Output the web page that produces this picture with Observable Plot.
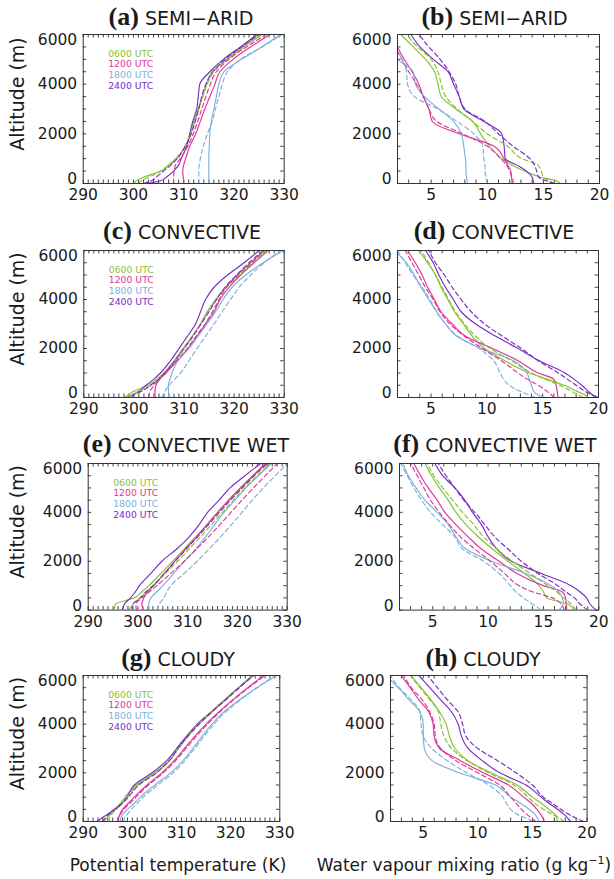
<!DOCTYPE html>
<html><head><meta charset="utf-8">
<script src="https://cdn.jsdelivr.net/npm/d3@7"></script>
<script src="https://cdn.jsdelivr.net/npm/@observablehq/plot@0.6"></script>
<style>
body{margin:0;background:#fff;}
#wrap{position:relative;width:614px;height:879px;overflow:hidden;background:#fff;}
#wrap > svg, #wrap > figure{position:absolute;margin:0;}
</style></head>
<body><div id="wrap"></div>
<script>
// ---------- shared values ----------
const altitude = [0, 100, 250, 500, 750, 1000, 1500, 2000, 2500, 3000, 3500, 4000, 4500, 5000, 5500, 6000];
const times = ["0600 UTC", "1200 UTC", "1800 UTC", "2400 UTC"];
const timeColors = ["#86c232", "#dd3598", "#7eb0dc", "#7a2cc4"];
const thetaTicks = [290, 300, 310, 320, 330];
const mixTicks = [5, 10, 15, 20];
const altTicks = [0, 2000, 4000, 6000];
const panelLetters = ["(a)", "(b)", "(c)", "(d)", "(e)", "(f)", "(g)", "(h)"];
const panelNames = ["SEMI\u2212ARID", "SEMI\u2212ARID", "CONVECTIVE", "CONVECTIVE", "CONVECTIVE WET", "CONVECTIVE WET", "CLOUDY", "CLOUDY"];
const thetaAxisTitle = "Potential temperature (K)";
const mixAxisTitle = "Water vapour mixing ratio (g kg";
const yAxisTitle = "Altitude (m)";

// rows: 0600, 1200, 1800, 2400 UTC ; columns follow `altitude`
// (a) potential temperature, semi-arid
const semiAridThetaSolid = [
  [300.0, 300.5, 302.0, 305.4, 307.0, 308.4, 310.4, 311.4, 312.0, 312.9, 313.7, 314.5, 315.7, 318.7, 322.0, 325.6],
  [310.0, 310.0, 309.9, 309.8, 310.0, 310.4, 311.2, 312.4, 313.3, 314.2, 315.2, 316.2, 317.2, 319.8, 323.3, 327.2],
  [315.0, 315.0, 315.0, 315.0, 315.0, 315.0, 315.1, 315.2, 315.5, 316.0, 316.5, 317.0, 318.0, 321.5, 325.5, 329.3],
  [302.5, 305.3, 306.5, 308.0, 309.0, 309.5, 310.6, 311.2, 311.8, 312.6, 312.9, 313.2, 315.2, 317.9, 321.3, 324.6]
];
const semiAridThetaDashed = [
  [301.0, 301.5, 303.0, 305.5, 307.3, 308.6, 310.3, 311.3, 312.2, 313.0, 313.8, 314.7, 316.0, 318.5, 321.8, 325.0],
  [308.0, 308.0, 308.0, 308.1, 308.4, 309.3, 310.8, 311.9, 312.8, 313.6, 314.4, 315.3, 316.5, 319.0, 322.5, 326.5],
  [313.0, 313.0, 313.0, 313.0, 313.1, 313.3, 313.9, 314.7, 315.7, 316.3, 317.0, 317.7, 318.7, 321.3, 325.6, 329.6],
  [302.0, 303.5, 304.5, 306.0, 307.5, 308.7, 310.3, 311.5, 312.3, 313.0, 313.6, 314.4, 315.8, 318.3, 321.5, 325.0]
];
// (b) mixing ratio, semi-arid
const semiAridMixSolid = [
  [16.5, 16.2, 14.8, 13.3, 12.2, 11.3, 10.2, 9.4, 8.7, 7.2, 5.9, 5.6, 5.3, 4.5, 3.4, 2.3],
  [12.2, 12.2, 12.15, 12.1, 11.8, 11.5, 10.6, 7.5, 5.1, 4.8, 4.3, 3.9, 3.3, 2.6, 2.0, 1.5],
  [8.2, 8.2, 8.15, 8.1, 8.1, 8.05, 7.9, 7.7, 7.0, 5.7, 4.4, 3.6, 3.4, 2.0, 1.3, 0.8],
  [14.1, 14.1, 14.0, 13.5, 12.6, 11.6, 11.5, 11.3, 9.7, 7.9, 7.5, 7.0, 6.5, 5.2, 4.0, 3.2]
];
const semiAridMixDashed = [
  [16.0, 15.5, 15.0, 14.8, 14.5, 13.1, 11.8, 10.0, 8.7, 7.3, 6.3, 5.9, 5.6, 5.0, 3.8, 2.8],
  [12.3, 12.3, 12.2, 12.0, 11.7, 11.2, 10.0, 7.8, 5.5, 4.8, 4.3, 3.7, 3.0, 2.4, 1.8, 1.3],
  [10.0, 9.95, 9.9, 9.8, 9.8, 9.7, 9.6, 8.8, 7.3, 5.6, 3.5, 2.9, 2.8, 2.4, 1.8, 1.2],
  [16.0, 15.3, 14.6, 14.4, 14.2, 13.8, 12.3, 11.0, 9.8, 8.0, 7.5, 7.2, 6.6, 5.8, 4.8, 3.9]
];
// (c) potential temperature, convective
const convThetaSolid = [
  [298.0, 298.8, 300.0, 302.8, 304.6, 306.0, 308.0, 309.8, 311.6, 313.3, 314.6, 316.3, 318.3, 320.6, 323.3, 326.3],
  [304.3, 304.2, 304.2, 304.4, 305.2, 306.4, 308.7, 310.8, 312.6, 314.3, 316.0, 317.2, 319.0, 321.3, 324.0, 326.8],
  [307.0, 307.0, 306.9, 306.9, 307.2, 307.6, 308.8, 311.0, 312.8, 314.6, 316.3, 317.8, 319.6, 322.3, 325.8, 329.8],
  [298.7, 299.6, 301.0, 302.4, 304.0, 305.3, 307.3, 309.0, 310.7, 312.3, 313.3, 314.3, 316.0, 318.7, 322.0, 325.0]
];
const convThetaDashed = [
  [298.5, 299.5, 301.0, 303.5, 305.0, 306.2, 308.2, 310.0, 311.7, 313.3, 314.8, 316.5, 318.5, 321.0, 323.7, 326.5],
  [303.0, 303.0, 303.2, 304.0, 305.0, 306.2, 308.5, 310.6, 312.4, 314.2, 315.7, 317.0, 318.5, 320.8, 323.5, 326.0],
  [305.5, 305.8, 306.2, 307.0, 308.2, 309.3, 311.0, 312.6, 314.3, 316.0, 317.6, 319.3, 321.0, 323.3, 326.0, 329.3],
  [299.6, 300.0, 301.5, 303.3, 305.0, 306.2, 308.2, 310.0, 311.8, 313.4, 315.0, 316.5, 318.2, 320.5, 323.0, 325.8]
];
// (d) mixing ratio, convective
const convMixSolid = [
  [19.1, 18.8, 18.1, 16.9, 15.4, 13.8, 11.6, 9.8, 8.7, 7.9, 7.1, 6.5, 5.9, 5.4, 4.7, 3.9],
  [16.4, 16.35, 16.3, 16.2, 16.0, 14.6, 12.8, 10.5, 8.1, 6.9, 5.9, 5.3, 4.7, 4.2, 3.6, 2.9],
  [15.2, 14.6, 14.2, 14.0, 13.8, 13.6, 12.4, 9.5, 7.3, 6.3, 5.5, 4.8, 4.1, 3.5, 2.8, 1.7],
  [20.0, 19.5, 19.1, 18.5, 17.8, 17.0, 14.7, 12.8, 10.8, 9.0, 7.7, 7.0, 6.3, 5.7, 5.2, 4.5]
];
const convMixDashed = [
  [18.6, 18.2, 17.6, 16.5, 15.2, 14.0, 12.2, 10.3, 9.0, 8.0, 7.2, 6.6, 6.0, 5.4, 4.8, 4.1],
  [16.0, 15.8, 15.4, 14.6, 13.6, 12.8, 11.3, 9.6, 8.0, 6.7, 5.8, 5.2, 4.5, 3.9, 3.3, 2.7],
  [14.3, 13.8, 13.0, 12.0, 11.5, 11.2, 10.6, 9.3, 7.4, 6.3, 5.5, 4.9, 4.2, 3.4, 2.7, 2.0],
  [19.8, 19.4, 18.8, 18.0, 17.2, 16.4, 14.6, 13.1, 11.4, 9.8, 8.6, 7.7, 6.9, 6.2, 5.4, 4.8]
];
// (e) potential temperature, convective wet
const wetThetaSolid = [
  [295.2, 295.3, 295.5, 299.3, 300.8, 302.2, 304.6, 307.0, 309.3, 311.6, 313.9, 316.1, 318.4, 320.7, 323.2, 325.8],
  [301.0, 300.9, 300.8, 301.2, 302.0, 303.2, 305.3, 307.4, 309.6, 311.8, 313.9, 316.0, 318.2, 320.6, 323.1, 325.6],
  [302.2, 302.2, 302.2, 302.6, 303.8, 305.0, 307.2, 309.4, 311.6, 313.6, 315.4, 317.3, 319.5, 321.7, 324.2, 326.8],
  [296.8, 297.0, 297.3, 298.5, 299.5, 300.3, 302.6, 304.8, 307.8, 310.3, 312.3, 314.0, 316.3, 318.5, 321.5, 324.7]
];
const wetThetaDashed = [
  [298.0, 298.5, 299.0, 300.3, 301.6, 303.0, 305.5, 308.0, 310.3, 312.6, 314.8, 317.0, 319.2, 321.5, 324.0, 326.5],
  [299.8, 299.6, 299.6, 300.8, 302.3, 303.8, 306.6, 309.3, 311.8, 314.2, 316.5, 318.7, 320.9, 323.2, 325.6, 328.0],
  [303.9, 304.0, 304.3, 305.2, 305.8, 306.6, 309.3, 311.9, 314.3, 316.6, 318.8, 320.9, 323.0, 325.2, 327.6, 330.0],
  [298.8, 298.8, 299.0, 300.5, 301.7, 303.0, 305.3, 307.5, 309.7, 312.0, 314.2, 316.4, 318.6, 321.0, 323.4, 326.0]
];
// (f) mixing ratio, convective wet
const wetMixSolid = [
  [17.8, 17.6, 17.2, 15.3, 15.0, 14.6, 13.3, 11.8, 10.4, 9.1, 8.0, 7.1, 6.4, 5.6, 4.9, 4.3],
  [17.1, 17.1, 17.05, 17.0, 16.7, 15.0, 12.6, 11.0, 9.4, 8.2, 7.1, 6.1, 5.4, 4.6, 3.9, 3.3],
  [16.4, 16.6, 16.8, 16.7, 16.4, 15.7, 13.4, 10.3, 8.0, 7.1, 6.4, 5.4, 4.3, 3.5, 2.8, 2.3],
  [19.8, 19.5, 19.2, 18.9, 18.3, 17.5, 14.8, 12.1, 10.8, 10.0, 9.4, 8.6, 7.9, 7.0, 5.9, 5.2]
];
const wetMixDashed = [
  [17.9, 17.8, 17.5, 16.8, 16.2, 15.4, 13.8, 12.2, 10.8, 9.6, 8.7, 7.7, 6.8, 5.9, 5.1, 4.5],
  [16.9, 16.8, 16.6, 15.8, 14.0, 12.8, 11.5, 10.2, 8.8, 7.5, 6.5, 5.6, 4.8, 4.2, 3.6, 3.0],
  [14.7, 14.5, 14.0, 13.2, 12.5, 12.0, 11.0, 9.6, 7.7, 7.0, 5.9, 4.8, 4.0, 3.3, 2.7, 2.1],
  [19.0, 18.7, 18.3, 17.8, 17.0, 16.3, 14.5, 13.0, 11.8, 10.6, 9.7, 8.8, 7.8, 7.0, 6.2, 5.5]
];
// (g) potential temperature, cloudy
const cloudyThetaSolid = [
  [294.2, 294.6, 295.3, 296.4, 297.6, 298.5, 300.8, 304.5, 307.5, 309.3, 311.2, 313.5, 316.2, 319.0, 321.7, 324.7],
  [297.3, 297.2, 297.4, 298.0, 299.2, 300.4, 303.0, 306.0, 308.5, 310.6, 312.7, 315.0, 317.6, 320.4, 323.5, 326.7],
  [297.6, 297.6, 297.9, 299.0, 300.4, 301.6, 304.6, 307.8, 310.3, 312.3, 314.2, 316.2, 318.6, 321.8, 325.3, 329.5],
  [292.8, 293.5, 294.6, 296.4, 297.9, 298.9, 300.4, 304.0, 307.0, 309.0, 311.0, 313.2, 316.0, 318.8, 321.6, 324.5]
];
const cloudyThetaDashed = [
  [295.4, 295.3, 295.6, 296.8, 298.0, 299.0, 301.2, 304.8, 307.6, 309.4, 311.3, 313.4, 316.0, 318.7, 321.6, 324.4],
  [297.0, 297.0, 297.4, 298.3, 299.5, 300.7, 303.3, 306.3, 308.8, 310.9, 313.0, 315.3, 317.8, 320.6, 323.7, 327.0],
  [298.3, 298.3, 298.8, 299.8, 301.0, 302.2, 305.2, 308.3, 310.7, 312.7, 314.6, 316.6, 319.0, 322.0, 325.4, 329.0],
  [293.9, 294.3, 295.0, 296.5, 298.0, 299.2, 301.3, 304.9, 307.5, 309.3, 311.3, 313.6, 316.2, 319.0, 321.8, 324.6]
];
// (h) mixing ratio, cloudy
const cloudyMixSolid = [
  [17.3, 17.25, 17.15, 16.5, 15.8, 15.0, 13.6, 11.2, 9.1, 7.9, 7.4, 7.1, 6.5, 5.7, 4.8, 3.9],
  [16.1, 16.0, 15.8, 15.4, 14.9, 14.2, 12.8, 10.5, 8.4, 6.5, 6.0, 5.9, 5.5, 4.6, 3.8, 3.0],
  [15.6, 15.5, 15.3, 14.7, 13.9, 13.0, 11.6, 8.3, 5.8, 5.1, 5.0, 5.0, 4.7, 3.7, 2.7, 1.6],
  [18.5, 18.3, 18.0, 17.3, 16.5, 15.8, 14.4, 12.0, 10.4, 9.1, 8.5, 8.2, 7.6, 6.6, 5.6, 4.6]
];
const cloudyMixDashed = [
  [17.9, 17.6, 17.0, 16.0, 15.2, 14.6, 13.3, 11.0, 9.0, 7.6, 6.9, 6.6, 6.4, 5.6, 4.7, 3.8],
  [15.3, 15.0, 14.6, 14.0, 13.5, 13.0, 12.0, 10.0, 8.0, 6.6, 6.1, 6.0, 5.6, 4.9, 3.9, 3.2],
  [15.0, 14.6, 13.8, 13.0, 12.6, 12.3, 11.0, 9.0, 7.2, 5.8, 5.0, 4.8, 4.7, 3.9, 2.8, 2.0],
  [19.7, 19.2, 18.5, 17.6, 16.8, 16.0, 15.0, 13.5, 11.8, 10.0, 8.9, 8.6, 8.2, 7.2, 6.3, 5.4]
];

// ---------- layout (frame boxes in page pixels) ----------
const layout = [
  {solid: semiAridThetaSolid, dashed: semiAridThetaDashed, theta: true,  left: 82.7,  top: 33.7,  w: 201,   h: 149,   tx: 181,   ty: 24.5},
  {solid: semiAridMixSolid,   dashed: semiAridMixDashed,   theta: false, left: 397,   top: 33.7,  w: 202,   h: 149,   tx: 494.5, ty: 24.5},
  {solid: convThetaSolid,     dashed: convThetaDashed,     theta: true,  left: 83.3,  top: 250,   w: 200.4, h: 147,   tx: 182,   ty: 238.5},
  {solid: convMixSolid,       dashed: convMixDashed,       theta: false, left: 397,   top: 250,   w: 201,   h: 147,   tx: 494,   ty: 238.5},
  {solid: wetThetaSolid,      dashed: wetThetaDashed,      theta: true,  left: 87.7,  top: 462.7, w: 199,   h: 146.6, tx: 186,   ty: 452},
  {solid: wetMixSolid,        dashed: wetMixDashed,        theta: false, left: 398.7, top: 462.7, w: 199.3, h: 146.6, tx: 495,   ty: 452},
  {solid: cloudyThetaSolid,   dashed: cloudyThetaDashed,   theta: true,  left: 82.7,  top: 675,   w: 196.6, h: 146,   tx: 178,   ty: 666},
  {solid: cloudyMixSolid,     dashed: cloudyMixDashed,     theta: false, left: 389.7, top: 675,   w: 196.6, h: 146,   tx: 483,   ty: 666}
];

const wrap = document.getElementById("wrap");
const font = "DejaVu Sans, sans-serif";

function rowsFor(series) {
  const out = [];
  series.forEach((vals, i) => vals.forEach((v, j) => out.push({value: v, altitude: altitude[j], time: times[i]})));
  return out;
}

layout.forEach((p, idx) => {
  const mL = p.theta ? p.left : 60, mR = 16, mT = 10, mB = 32;
  const xDomain = p.theta ? [290, 330] : [2, 20];
  const xTicks = p.theta ? thetaTicks : mixTicks;
  const xMinor = p.theta ? d3.range(290, 331, 1) : d3.range(2, 21, 1);
  const yMinor = d3.range(0, 6001, 500);
  const tickStyle = {stroke: "#444", strokeWidth: 1};
  const marks = [
    Plot.ruleX(xMinor, {x: d => d, insetTop: p.h - 3.5, ...tickStyle}),
    Plot.ruleX(xMinor, {x: d => d, insetBottom: p.h - 3.5, ...tickStyle}),
    Plot.ruleY(yMinor, {y: d => d, insetRight: p.w - 3.5, ...tickStyle}),
    Plot.ruleY(yMinor, {y: d => d, insetLeft: p.w - 3.5, ...tickStyle}),
    Plot.line(rowsFor(p.solid), {x: "value", y: "altitude", z: "time", stroke: "time", strokeWidth: 1.15, curve: "monotone-y", clip: true}),
    Plot.line(rowsFor(p.dashed), {x: "value", y: "altitude", z: "time", stroke: "time", strokeWidth: 1.15, strokeDasharray: "4.5,3", curve: "monotone-y", clip: true}),
    Plot.frame({stroke: "#333", strokeWidth: 1}),
    Plot.text(xTicks, {x: d => d, text: d => String(d), frameAnchor: "bottom", dy: 16.5, fontSize: 15.5}),
    Plot.text(altTicks.filter(d => d === 6000), {y: d => d, text: d => String(d), frameAnchor: "left", textAnchor: "end", dx: -6, dy: 6, fontSize: 15.5}),
    Plot.text(altTicks.filter(d => d > 0 && d < 6000), {y: d => d, text: d => String(d), frameAnchor: "left", textAnchor: "end", dx: -6, fontSize: 15.5}),
    Plot.text(altTicks.filter(d => d === 0), {y: d => d, text: d => String(d), frameAnchor: "left", textAnchor: "end", dx: -6, dy: -4.5, fontSize: 15.5})
  ];
  if (p.theta) {
    times.forEach((t, i) => marks.push(
      Plot.text([t], {text: d => d, frameAnchor: "top-left", textAnchor: "start", dx: 25, dy: 15.5 + i * 10.7, fill: timeColors[i], fontSize: 9.3})
    ));
    marks.push(Plot.text([yAxisTitle], {text: d => d, frameAnchor: "left", textAnchor: "middle", lineAnchor: "middle", rotate: -90, dx: 17 - p.left, dy: -15, fontSize: 19}));
  }
  const chart = Plot.plot({
    width: p.w + mL + mR, height: p.h + mT + mB,
    marginLeft: mL, marginRight: mR, marginTop: mT, marginBottom: mB,
    style: {background: "transparent", overflow: "visible", fontFamily: font, fontSize: "15.5px", color: "#1a1a1a"},
    x: {domain: xDomain, axis: null},
    y: {domain: [0, 6000], axis: null},
    color: {domain: times, range: timeColors},
    marks
  });
  chart.style.position = "absolute";
  chart.style.left = (p.left - mL) + "px";
  chart.style.top = (p.top - mT) + "px";
  chart.style.maxWidth = "none";
  wrap.appendChild(chart);
});

// titles and axis titles
const ns = "http://www.w3.org/2000/svg";
const over = document.createElementNS(ns, "svg");
over.setAttribute("width", 614); over.setAttribute("height", 879);
over.style.position = "absolute"; over.style.left = "0px"; over.style.top = "0px"; over.style.pointerEvents = "none";
over.setAttribute("font-family", font);
function addText(parent, x, y, parts, anchor) {
  const t = document.createElementNS(ns, "text");
  t.setAttribute("x", x); t.setAttribute("y", y); t.setAttribute("text-anchor", anchor || "middle");
  t.setAttribute("fill", "#1a1a1a");
  parts.forEach(pt => {
    const s = document.createElementNS(ns, "tspan");
    s.textContent = pt.text;
    for (const k in pt) if (k !== "text") s.setAttribute(k, pt[k]);
    t.appendChild(s);
  });
  parent.appendChild(t);
}
layout.forEach((p, i) => {
  addText(over, p.tx, p.ty, [
    {text: panelLetters[i], "font-family": "Liberation Serif, DejaVu Serif, serif", "font-weight": "bold", "font-size": 26},
    {text: "\u00a0" + panelNames[i], "font-size": 19}
  ]);
});
addText(over, 178, 871, [{text: thetaAxisTitle, "font-size": 17}]);
addText(over, 464, 871, [
  {text: mixAxisTitle, "font-size": 17},
  {text: "\u22121", "font-size": 11, dy: -7},
  {text: ")", "font-size": 17, dy: 7}
]);
wrap.appendChild(over);
</script>
</body></html>
